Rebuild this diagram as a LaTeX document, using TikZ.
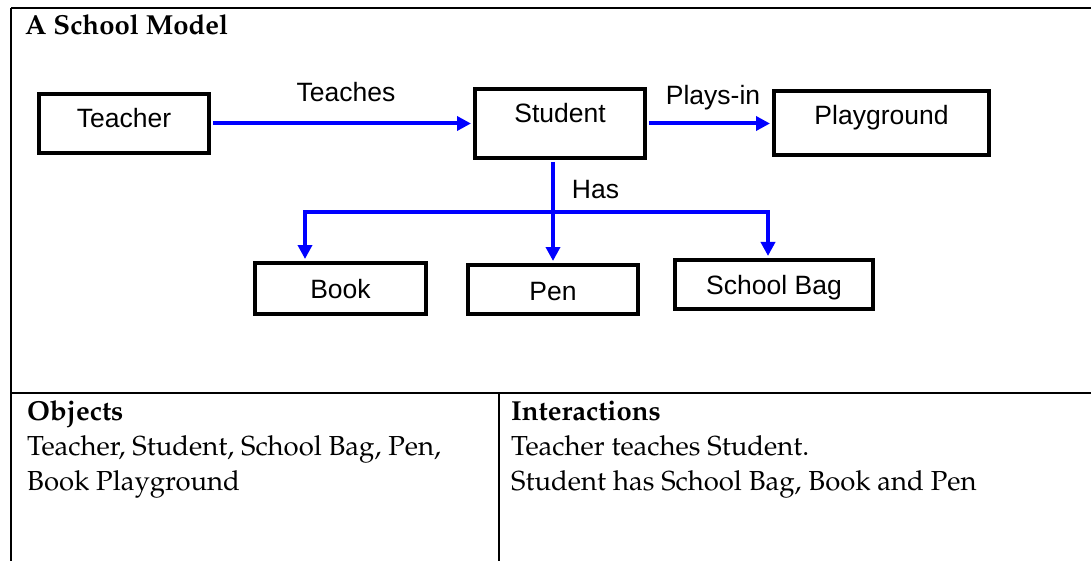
\documentclass[tikz,border=0pt]{standalone}
\usepackage[T1]{fontenc}
\usepackage{fontspec}
\newfontfamily\arialf{Liberation Sans}
\newcommand\palf{\fontencoding{T1}\fontfamily{ppl}\selectfont}
\usetikzlibrary{arrows.meta}
\begin{document}
\begin{tikzpicture}[x=1pt,y=-1pt,
  box/.style={draw, line width=4pt, inner sep=0pt, anchor=base,
    font=\arialf\fontsize{26.5}{30}\selectfont},
  tipx/.tip={Triangle[length=14pt,width=14pt]},
  rel/.style={draw=blue, line width=4pt, -tipx},
  lbl/.style={inner sep=0pt, anchor=base, font=\arialf\fontsize{26.5}{30}\selectfont},
  frame/.style={line width=1.8pt},
  ttl/.style={inner sep=0pt, anchor=base west, font=\palf\bfseries\fontsize{27.5}{30}\selectfont},
  hd/.style={inner sep=0pt, anchor=base west, font=\palf\bfseries\fontsize{27.5}{30}\selectfont},
  txt/.style={inner sep=0pt, anchor=base west, font=\palf\fontsize{27.5}{30}\selectfont}]
\useasboundingbox (0,0) rectangle (1091,561);
% frame
\draw[frame] (11,8) -- (1091,8);
\draw[frame] (11,8) -- (11,561);
\draw[frame] (11,393) -- (1091,393);
\draw[frame] (499,393) -- (499,561);
% title
\node[ttl] (title) at (25,35) {A School Model};
% boxes
\node[box, minimum width=170pt, text height=34pt, text depth=25pt] (teacher) at (124,128) {Teacher};
\node[box, minimum width=170pt, text height=34pt, text depth=35pt] (student) at (560,123) {Student};
\node[box, minimum width=215pt, text height=34pt, text depth=30pt] (playground) at (881.5,125) {Playground};
\node[box, minimum width=171pt, text height=35pt, text depth=16pt] (book) at (340.5,298) {Book};
\node[box, minimum width=170pt, text height=35pt, text depth=14pt] (pen) at (553,300) {Pen};
\node[box, minimum width=198pt, text height=34pt, text depth=15pt] (bag) at (774,294) {School Bag};
% connectors
\draw[rel, shorten <=2pt, shorten >=2pt] (teacher.east) -- (student.west |- teacher.east);
\draw[rel, shorten <=2pt, shorten >=2pt] (student.east) -- (playground.west |- student.east);
\coordinate (hl) at (305,212);
\coordinate (hr) at (768,212);
\draw[draw=blue, line width=4pt, tipx-tipx, shorten <=2pt, shorten >=2pt]
  (hl |- book.north) -- (hl) -- (hr) -- (hr |- bag.north);
\draw[rel, shorten <=2pt, shorten >=2pt] (student.south -| pen.north) -- (pen.north);
% labels
\node[lbl] (teaches) at (346,102) {Teaches};
\node[lbl] (playsin) at (713,105) {Plays-in};
\node[lbl] (has) at (595.5,199) {Has};
% table text
\node[hd] (objh) at (27,420) {Objects};
\node[txt] (obj1) at (27,455) {Teacher, Student, School Bag, Pen,};
\node[txt] (obj2) at (27,490) {Book Playground};
\node[hd] (inth) at (511,420) {Interactions};
\node[txt] (int1) at (511,455) {Teacher teaches Student.};
\node[txt] (int2) at (511,490) {Student has School Bag, Book and Pen};
\end{tikzpicture}
\end{document}
